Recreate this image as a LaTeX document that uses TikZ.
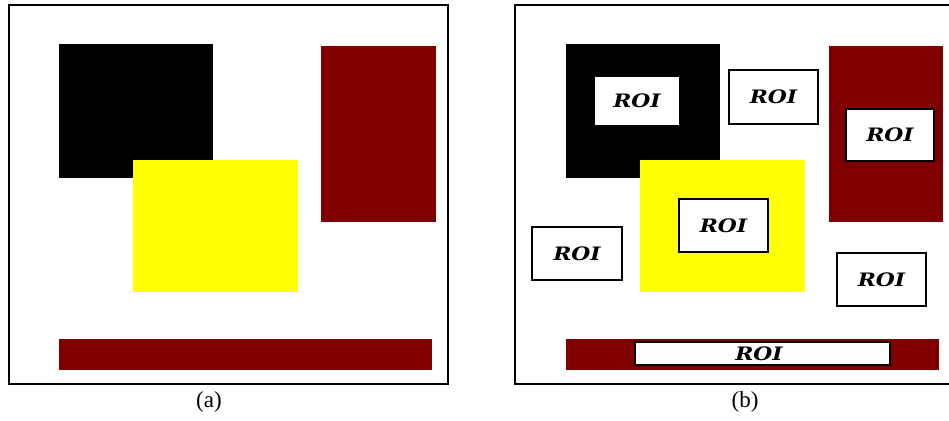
\documentclass[tikz,border=0pt]{standalone}
\usepackage{fontspec}
\setmainfont{Liberation Serif}
\newfontfamily\roifont{DejaVu Serif}
\definecolor{maroonc}{HTML}{800000}
\definecolor{yellowc}{HTML}{FFFF00}
\tikzset{
  frame/.style={draw=black, line width=2pt},
  blk/.style={fill=black},
  ylw/.style={fill=yellowc},
  mrn/.style={fill=maroonc},
  roibox/.style={draw=black, fill=white, line width=1.3pt},
  roitext/.style={font=\roifont\bfseries\itshape\fontsize{18.5}{18.5}\selectfont, inner sep=0pt},
  captext/.style={font=\fontsize{23}{23}\selectfont, inner sep=0pt}
}
\newcommand{\roilabel}{\scalebox{1.18}[1]{ROI}}
\begin{document}
\begin{tikzpicture}[x=1pt,y=-1pt]
\useasboundingbox (0,0) rectangle (949,420);
\clip (0,0) rectangle (949,420);
\fill[white] (0,0) rectangle (949,420);
% ---------- panel (a)
\draw[frame] (9,5) rectangle (448,384);
\fill[blk] (59,44) rectangle (213,178);
\fill[ylw] (133,160) rectangle (298,292);
\fill[mrn] (321,46) rectangle (436,222);
\fill[mrn] (59,339) rectangle (432,370);
\node[captext] (capa) at (209,402) {(a)};
% ---------- panel (b)
\draw[frame] (515,5) rectangle (955,384);
\fill[blk] (566,44) rectangle (720,178);
\fill[ylw] (640,160) rectangle (805,292);
\fill[mrn] (829,46) rectangle (943,222);
\fill[mrn] (566,339) rectangle (939,370);
% ROI boxes
\draw[roibox] (594,76) rectangle (680,126);
\node[roitext] (r1) at (637,101) {\roilabel};
\draw[roibox] (729,70) rectangle (818,124);
\node[roitext] (r2) at (773.5,97) {\roilabel};
\draw[roibox] (846,109) rectangle (934,161);
\node[roitext] (r3) at (890,135) {\roilabel};
\draw[roibox] (679,199) rectangle (768,252);
\node[roitext] (r4) at (723.5,225.5) {\roilabel};
\draw[roibox] (532,227) rectangle (622,280);
\node[roitext] (r5) at (577,253.5) {\roilabel};
\draw[roibox] (837,253) rectangle (926,306);
\node[roitext] (r6) at (881.5,279.5) {\roilabel};
\draw[roibox] (635,342) rectangle (890,365);
\node[roitext] (r7) at (759,353.5) {\roilabel};
\node[captext] (capb) at (745,402) {(b)};
\end{tikzpicture}
\end{document}
